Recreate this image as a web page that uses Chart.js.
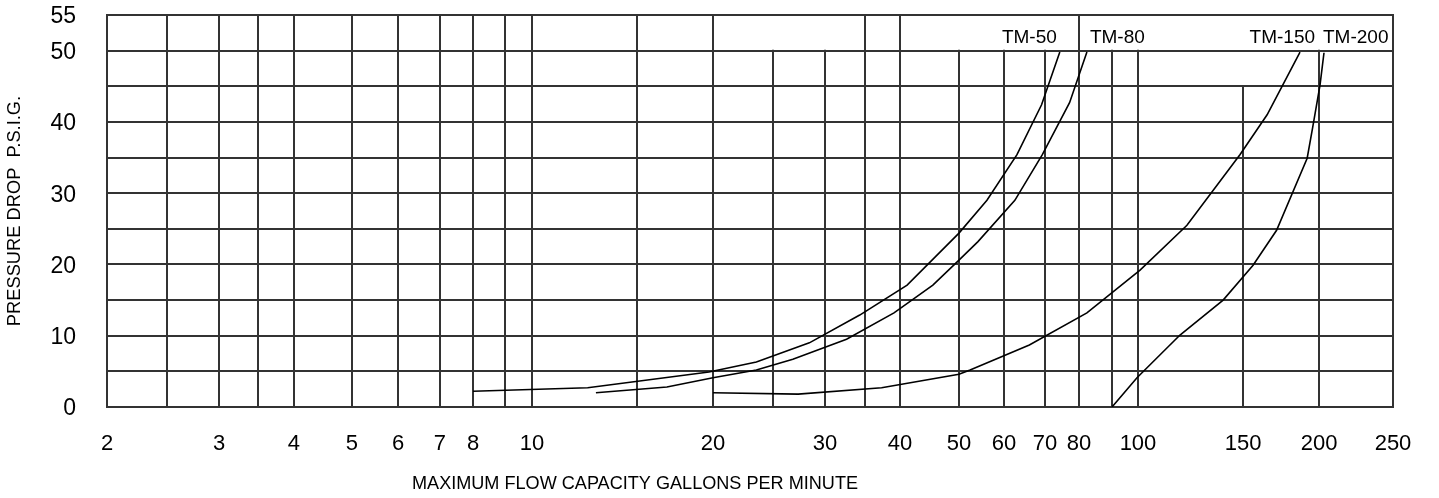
<!DOCTYPE html>
<html><head><meta charset="utf-8">
<script src="https://cdn.jsdelivr.net/npm/chart.js@4.4.1/dist/chart.umd.min.js"></script>
<style>html,body{margin:0;padding:0;background:#fff;}#wrap{width:1439px;height:498px;position:relative;}</style>
</head><body><div id="wrap"><canvas id="c"></canvas></div>
<script>
// ---- data ----
const seriesNames = ['TM-50', 'TM-80', 'TM-150', 'TM-200'];
const tm50Flow = [8, 12.4, 19.7, 23.5, 28.4, 34.3, 41.1, 50, 56, 63, 69.1, 74.2];
const tm50Drop = [2.2, 2.7, 4.9, 6.3, 9.0, 12.9, 17.1, 24.4, 29.0, 35.4, 42.4, 49.8];
const tm80Flow = [12.8, 16.8, 20, 23.5, 26.8, 32.6, 39.1, 45.3, 50, 54, 62.5, 69.3, 77.1, 82.3];
const tm80Drop = [2.0, 2.8, 4.1, 5.2, 6.7, 9.5, 13.2, 17.1, 20.6, 23.2, 29.0, 35.4, 42.7, 49.8];
const tm150Flow = [20, 27.3, 37.3, 50, 52.3, 66, 82.3, 100.8, 120.8, 148.2, 164.3, 186.1];
const tm150Drop = [2.0, 1.8, 2.7, 4.6, 5.2, 8.7, 13.2, 19.2, 25.5, 35.4, 41.0, 49.8];
const tm200Flow = [90, 99.6, 117.6, 138.9, 155.8, 170.3, 191.2, 195.3, 200.6, 203];
const tm200Drop = [0, 4.1, 10.1, 15.0, 19.9, 24.8, 34.9, 39.3, 45.2, 49.7];
const xTickValues = [2, 3, 4, 5, 6, 7, 8, 10, 20, 30, 40, 50, 60, 70, 80, 100, 150, 200, 250];
const xGridValues = [2, 2.5, 3, 3.5, 4, 5, 6, 7, 8, 9, 10, 15, 20, 25, 30, 35, 40, 50, 60, 70, 80, 90, 100, 150, 200, 250];
const xGridTops   = [55, 55, 55, 55, 55, 55, 55, 55, 55, 55, 55, 55, 55, 50, 50, 55, 55, 50, 50, 50, 55, 50, 50, 45, 50, 55];
const yLabelValues = [0, 10, 20, 30, 40, 50, 55];

// ---- hand-drawn (non-uniform) log axis: value -> fraction of axis length ----
const axisStops = [[2,0],[2.5,0.0467],[3,0.0871],[3.5,0.1174],[4,0.1454],[5,0.1905],[6,0.2263],[7,0.2589],
  [8,0.2846],[9,0.3095],[10,0.3305],[15,0.4121],[20,0.4712],[25,0.5179],[30,0.5583],[35,0.5894],[40,0.6166],
  [50,0.6625],[60,0.6975],[70,0.7294],[80,0.7558],[90,0.7815],[100,0.8017],[150,0.8834],[200,0.9425],[250,1]];
function warp(v){
  const s = axisStops;
  if (v <= s[0][0]) return s[0][1];
  for (let i = 1; i < s.length; i++) {
    if (v <= s[i][0]) {
      const t = Math.log(v / s[i-1][0]) / Math.log(s[i][0] / s[i-1][0]);
      return s[i-1][1] + t * (s[i][1] - s[i-1][1]);
    }
  }
  return 1;
}
function unwarp(d){
  const s = axisStops;
  for (let i = 1; i < s.length; i++) {
    if (d <= s[i][1]) {
      const t = (d - s[i-1][1]) / (s[i][1] - s[i-1][1]);
      return s[i-1][0] * Math.pow(s[i][0] / s[i-1][0], t);
    }
  }
  return s[s.length-1][0];
}
class ChartLogScale extends Chart.LinearScale {
  buildTicks(){ return xTickValues.map(v => ({value: v})); }
  getPixelForValue(v){ return this.getPixelForDecimal(warp(v)); }
  getValueForPixel(p){ return unwarp(this.getDecimalForPixel(p)); }
}
ChartLogScale.id = 'chartlog';
ChartLogScale.defaults = {};
Chart.register(ChartLogScale);

const FONT = "'Liberation Sans', Arial, sans-serif";
const GRID = '#333333';

const partialGrid = {
  id: 'partialGrid',
  beforeDatasetsDraw(chart){
    const {ctx, scales: {x, y}} = chart;
    ctx.save();
    ctx.strokeStyle = GRID; ctx.lineWidth = 2;
    xGridValues.forEach((v, i) => {
      const px = Math.round(x.getPixelForValue(v));
      ctx.beginPath();
      ctx.moveTo(px, y.getPixelForValue(xGridTops[i]) - 1);
      ctx.lineTo(px, y.getPixelForValue(0) + 1);
      ctx.stroke();
    });
    ctx.restore();
  }
};
const endLabels = {
  id: 'endLabels',
  afterDatasetsDraw(chart){
    const {ctx, scales: {y}} = chart;
    ctx.save();
    ctx.fillStyle = '#000'; ctx.font = '19px ' + FONT; ctx.textBaseline = 'alphabetic';
    chart.data.datasets.forEach((ds, i) => {
      const pts = chart.getDatasetMeta(i).data;
      const last = pts[pts.length - 1];
      ctx.textAlign = ds.labelAlign;
      ctx.fillText(ds.label, last.x + ds.labelDx, y.getPixelForValue(50) - 8);
    });
    ctx.restore();
  }
};
const xTitle = {
  id: 'xTitle',
  afterDraw(chart){
    const {ctx, chartArea} = chart;
    ctx.save();
    ctx.fillStyle = '#000'; ctx.font = '18.1px ' + FONT;
    ctx.textAlign = 'center'; ctx.textBaseline = 'middle';
    ctx.fillText('MAXIMUM FLOW CAPACITY GALLONS PER MINUTE', chartArea.left + 528, chartArea.bottom + 77);
    ctx.restore();
  }
};

function pts(xs, ys){ return xs.map((v, i) => ({x: v, y: ys[i]})); }
const lineStyle = {borderColor: '#000', borderWidth: 1.6, pointRadius: 0, tension: 0, fill: false};

new Chart(document.getElementById('c'), {
  type: 'line',
  data: {
    datasets: [
      Object.assign({label: seriesNames[0], data: pts(tm50Flow, tm50Drop), labelAlign: 'right', labelDx: -3}, lineStyle),
      Object.assign({label: seriesNames[1], data: pts(tm80Flow, tm80Drop), labelAlign: 'left', labelDx: 3}, lineStyle),
      Object.assign({label: seriesNames[2], data: pts(tm150Flow, tm150Drop), labelAlign: 'right', labelDx: 15}, lineStyle),
      Object.assign({label: seriesNames[3], data: pts(tm200Flow, tm200Drop), labelAlign: 'left', labelDx: -1}, lineStyle)
    ]
  },
  options: {
    responsive: true, maintainAspectRatio: false, animation: false,
    layout: {padding: {top: 15, right: 46, left: 0, bottom: 0}},
    plugins: {legend: {display: false}, tooltip: {enabled: false}},
    scales: {
      x: {
        type: 'chartlog', min: 2, max: 250,
        grid: {display: false, drawTicks: false},
        border: {display: false},
        ticks: {autoSkip: false, maxRotation: 0, padding: 24, color: '#000',
          font: {family: FONT, size: 22}, callback: v => String(v)},
        afterFit(s){ s.height = 91; s.paddingLeft = 0; s.paddingRight = 0; }
      },
      y: {
        type: 'linear', min: 0, max: 55,
        grid: {color: GRID, lineWidth: 2, drawTicks: false},
        border: {display: true, color: GRID, width: 2},
        ticks: {stepSize: 5, autoSkip: false, padding: 31, labelOffset: 2, color: '#000',
          font: {family: FONT, size: 23},
          callback: v => yLabelValues.includes(v) ? String(v) : ''},
        title: {display: true, text: 'PRESSURE DROP  P.S.I.G.', color: '#000',
          font: {family: FONT, size: 18.3}, padding: {top: 4, bottom: 4}},
        afterFit(s){ s.width = 107; s.paddingTop = 0; s.paddingBottom = 0; }
      }
    }
  },
  plugins: [partialGrid, endLabels, xTitle]
});
</script></body></html>
